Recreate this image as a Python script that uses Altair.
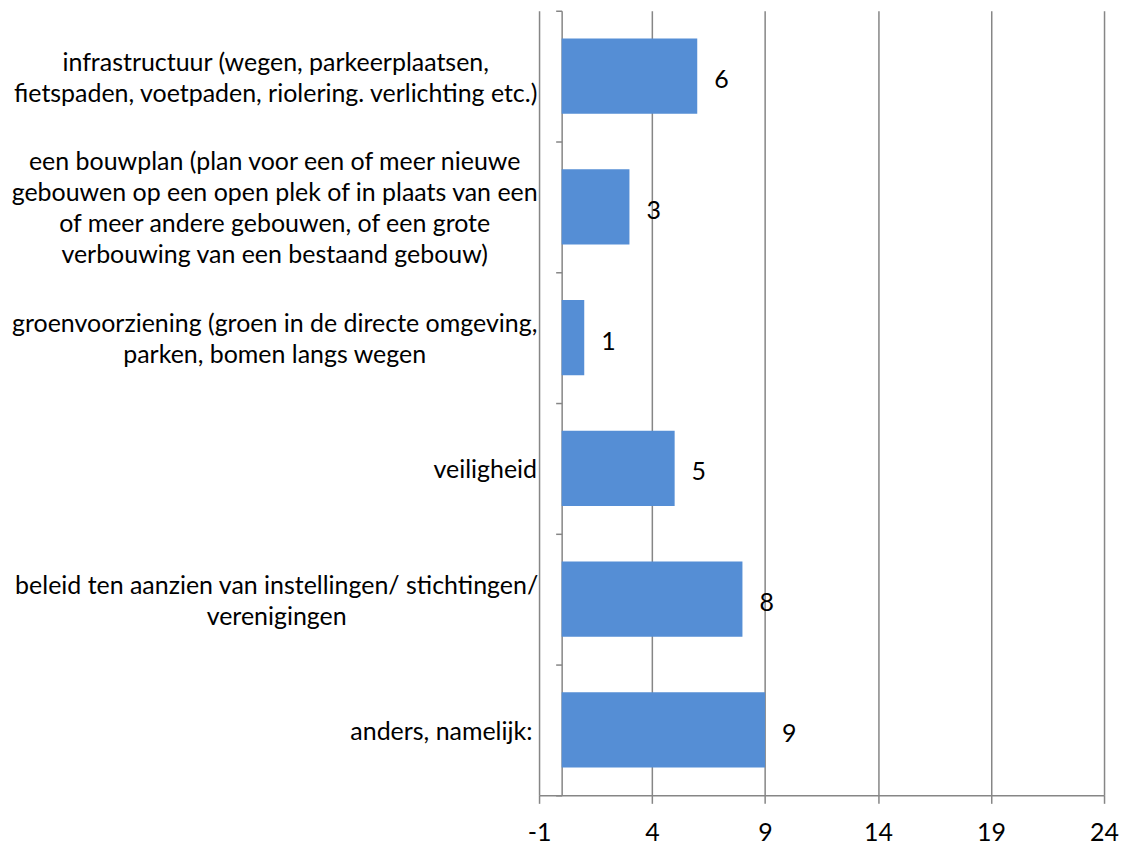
import altair as alt
import pandas as pd

categories = [
    "infrastructuur (wegen, parkeerplaatsen,|fietspaden, voetpaden, riolering. verlichting etc.)",
    "een bouwplan (plan voor een of meer nieuwe|gebouwen op een open plek of in plaats van een|of meer andere gebouwen, of een grote|verbouwing van een bestaand gebouw)",
    "groenvoorziening (groen in de directe omgeving,|parken, bomen langs wegen",
    "veiligheid",
    "beleid ten aanzien van instellingen/ stichtingen/|verenigingen",
    "anders, namelijk:",
]
values = [6, 3, 1, 5, 8, 9]
x_ticks = [-1, 4, 9, 14, 19, 24]

# style: horizontal distance that centres each label block left of the axis
label_pad = [281, 282, 282, 71, 280, 115]

df = pd.DataFrame({"cat": categories, "val": values})

W, H = 566, 786
FONT = "Lato"
FS = 25
LH = 31
GRAY = "#868686"

pad_cond = {
    "condition": [
        {"test": "datum.value == '%s'" % c, "value": p}
        for c, p in zip(categories, label_pad)
    ],
    "value": 280,
}
# vertical centring of multi-line label blocks
off_cond = {
    "condition": [
        {"test": "datum.value == '%s'" % c, "value": 1.5 - c.count("|") * LH / 2}
        for c in categories
    ],
    "value": 0,
}

y_enc = alt.Y(
    "cat:N",
    sort=categories,
    scale=alt.Scale(paddingInner=0, paddingOuter=0),
    axis=alt.Axis(
        title=None,
        orient="left",
        offset=-W / 25,
        tickBand="extent",
        tickSize=6,
        tickColor=GRAY,
        tickWidth=1.5,
        domainColor=GRAY,
        domainWidth=1.5,
        labelAlign="center",
        labelBaseline="middle",
        labelLineHeight=LH,
        labelFontSize=FS,
        labelFont=FONT,
        labelColor="black",
        labelLimit=1000,
        labelExpr="split(datum.label, '|')",
        labelPadding=pad_cond,
        labelOffset=off_cond,
        grid=False,
    ),
)

x_scale = alt.Scale(domain=[-1, 24], nice=False, zero=False)
x_enc = alt.X(
    "val:Q",
    scale=x_scale,
    axis=alt.Axis(
        title=None,
        values=x_ticks,
        grid=True,
        gridColor=GRAY,
        gridWidth=1.5,
        tickSize=8,
        tickColor=GRAY,
        tickWidth=1.5,
        domainColor=GRAY,
        domainWidth=1.5,
        labelFontSize=FS,
        labelFont=FONT,
        labelColor="black",
        labelPadding=17,
        labelFlush=False,
        labelExpr="datum.value < 0 ? '-' + (-datum.value) : '' + datum.value",
    ),
)

bars = alt.Chart(df).mark_bar(color="#558ED5", height=alt.RelativeBandSize(0.576)).encode(
    x=alt.X("val:Q", scale=x_scale),
    x2=alt.datum(0),
    y=y_enc,
)

text = alt.Chart(df).mark_text(
    align="left", baseline="middle", dx=17, dy=4, fontSize=FS, font=FONT, color="black"
).encode(x=x_enc, y=alt.Y("cat:N", sort=categories), text="val:Q")

chart = (
    alt.layer(text, bars)
    .properties(
        width=W,
        height=H,
        autosize=alt.AutoSizeParams(type="none"),
        padding={"left": 532, "top": 2, "right": 20, "bottom": 50},
    )
    .configure_view(stroke=None)
)

chart.save("out.html", embed_options={"renderer": "svg", "actions": False})
